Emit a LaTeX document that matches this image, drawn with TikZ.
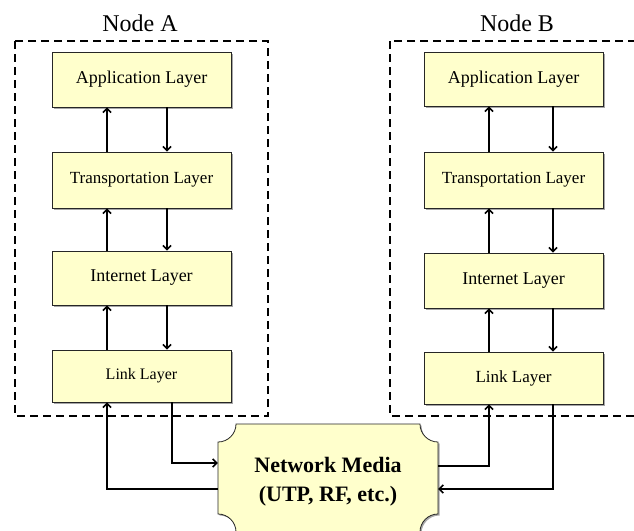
\documentclass[tikz,border=0pt]{standalone}
\usepackage{fontspec}
\setmainfont{Liberation Serif}
\usetikzlibrary{arrows.meta,shadows}
\definecolor{boxfill}{HTML}{FFFFCC}
\begin{document}
\begin{tikzpicture}[x=1pt,y=1pt,
  layer/.style={draw=black!85, line width=0.8pt, fill=boxfill, minimum width=179pt, inner sep=0pt,
    drop shadow={shadow xshift=1.5pt, shadow yshift=-1.5pt, opacity=0.35, fill=black}},
  arr/.style={line width=1.6pt, -{Straight Barb[length=4pt,width=8pt]}},
  frame/.style={dash pattern=on 8pt off 5pt, line width=1.6pt},
  title/.style={font=\fontsize{24}{28}\selectfont, anchor=base}]
\useasboundingbox (0,0) rectangle (634,-530);

% frames
\draw[frame] (15,-41) rectangle (268,-416);
\draw[frame] (390,-41) rectangle (645,-416);

% titles
\node[title] (tA) at (140,-31) {Node A};
\node[title] (tB) at (517,-31) {Node B};

% Node A layers
\node[layer, minimum height=55pt, font=\fontsize{18}{20}\selectfont] (apA) at (141.5,-79.5) {Application Layer};
\node[layer, minimum height=56pt, font=\fontsize{17}{20}\selectfont] (trA) at (141.5,-180) {Transportation Layer};
\node[layer, minimum height=54pt, font=\fontsize{18}{20}\selectfont] (inA) at (141.5,-278) {Internet Layer};
\node[layer, minimum height=52pt, font=\fontsize{16}{20}\selectfont] (liA) at (141.5,-376) {Link Layer};

% Node B layers
\node[layer, minimum height=54pt, font=\fontsize{18}{20}\selectfont] (apB) at (513.5,-79) {Application Layer};
\node[layer, minimum height=56pt, font=\fontsize{17}{20}\selectfont] (trB) at (513.5,-180) {Transportation Layer};
\node[layer, minimum height=55pt, font=\fontsize{18}{20}\selectfont] (inB) at (513.5,-280.5) {Internet Layer};
\node[layer, minimum height=52pt, font=\fontsize{17}{20}\selectfont] (liB) at (513.5,-378) {Link Layer};

% Network media plaque
\draw[fill=boxfill, draw=black!85, line width=0.8pt,
    drop shadow={shadow xshift=1.5pt, shadow yshift=-1.5pt, opacity=0.35, fill=black}]
  (236,-424) -- (420,-424) arc[start angle=180,end angle=270,radius=18]
  -- (438,-514) arc[start angle=90,end angle=180,radius=18]
  -- (236,-532) arc[start angle=0,end angle=90,radius=18]
  -- (218,-442) arc[start angle=270,end angle=360,radius=18] -- cycle;
\node[font=\bfseries\fontsize{22}{29}\selectfont, align=center, minimum width=220pt, minimum height=108pt, inner sep=0pt]
  (net) at (328,-482) {Network Media\\(UTP, RF, etc.)};

% Node A arrows
\draw[arr] ([xshift=-34.5pt]trA.north) -- ([xshift=-34.5pt]apA.south);
\draw[arr] ([xshift=25.5pt]apA.south) -- ([xshift=25.5pt]trA.north);
\draw[arr] ([xshift=-34.5pt]inA.north) -- ([xshift=-34.5pt]trA.south);
\draw[arr] ([xshift=25.5pt]trA.south) -- ([xshift=25.5pt]inA.north);
\draw[arr] ([xshift=-34.5pt]liA.north) -- ([xshift=-34.5pt]inA.south);
\draw[arr] ([xshift=25.5pt]inA.south) -- ([xshift=25.5pt]liA.north);

% Node B arrows
\draw[arr] ([xshift=-24.5pt]trB.north) -- ([xshift=-24.5pt]apB.south);
\draw[arr] ([xshift=39.5pt]apB.south) -- ([xshift=39.5pt]trB.north);
\draw[arr] ([xshift=-24.5pt]inB.north) -- ([xshift=-24.5pt]trB.south);
\draw[arr] ([xshift=39.5pt]trB.south) -- ([xshift=39.5pt]inB.north);
\draw[arr] ([xshift=-24.5pt]liB.north) -- ([xshift=-24.5pt]inB.south);
\draw[arr] ([xshift=39.5pt]inB.south) -- ([xshift=39.5pt]liB.north);

% Network connections
\draw[arr] ([xshift=30.5pt]liA.south) |- ([yshift=19pt]net.west);
\draw[arr] ([yshift=-7pt]net.west) -| ([xshift=-34.5pt]liA.south);
\draw[arr] ([yshift=16pt]net.east) -| ([xshift=-24.5pt]liB.south);
\draw[arr] ([xshift=39.5pt]liB.south) |- ([yshift=-7pt]net.east);
\end{tikzpicture}
\end{document}
